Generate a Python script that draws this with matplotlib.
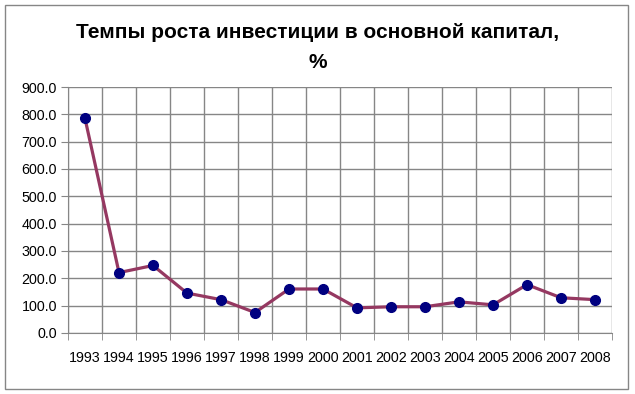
import numpy as np
import matplotlib.pyplot as plt
from matplotlib.patches import Rectangle

# годы и темпы роста, %
years = ['1993', '1994', '1995', '1996', '1997', '1998', '1999', '2000',
         '2001', '2002', '2003', '2004', '2005', '2006', '2007', '2008']
values = [785.0, 221.0, 247.0, 146.0, 122.0, 75.0, 161.0, 161.0,
          92.0, 96.0, 96.0, 114.0, 103.0, 177.0, 129.0, 122.0]
yticks = [0, 100, 200, 300, 400, 500, 600, 700, 800, 900]

plt.rcParams['font.family'] = ['Liberation Sans', 'DejaVu Sans']

fig = plt.figure(figsize=(6.35, 3.94), dpi=100)
W, H = 635, 394
ax = fig.add_axes([68 / W, 1 - 333 / H, (612 - 68) / W, (333 - 87) / H])

x = np.arange(len(years))
ax.plot(x, values, color='#953861', lw=2.3, marker='o', ms=7,
        mfc='#000080', mec='#000080', zorder=3, clip_on=False)

ax.set_xlim(-0.5, len(years) - 0.5)
ax.set_ylim(0, 900)
ax.set_yticks(yticks)
ax.set_yticklabels(['%.1f' % v for v in yticks], fontsize=10.3)
ax.set_xticks(x)
ax.set_xticklabels(years, fontsize=10.3)
ax.tick_params(axis='x', length=0, pad=13)
ax.set_xticks(np.arange(len(years) + 1) - 0.5, minor=True)
ax.tick_params(axis='x', which='minor', length=5, color='#868686', direction='out')
ax.tick_params(axis='y', length=5, color='#868686', direction='out', pad=3)

ax.grid(True, which='major', axis='y', color='#868686', lw=1)
ax.grid(True, which='minor', axis='x', color='#868686', lw=1)
ax.set_axisbelow(True)
for s in ['top', 'right']:
    ax.spines[s].set_visible(False)
for s in ['left', 'bottom']:
    ax.spines[s].set_color('#868686')

fig.text(0.5, 1 - 33 / H, 'Темпы роста инвестиции в основной капитал,',
         ha='center', va='center', fontsize=15, fontweight='bold')
fig.text(0.5, 1 - 62 / H, '%', ha='center', va='center',
         fontsize=15, fontweight='bold')

fig.patches.append(Rectangle((5 / W, 5 / H), 623 / W, 384 / H,
                             transform=fig.transFigure, fill=False,
                             edgecolor='#868686', lw=1))

fig.savefig('out.png', dpi=100)
